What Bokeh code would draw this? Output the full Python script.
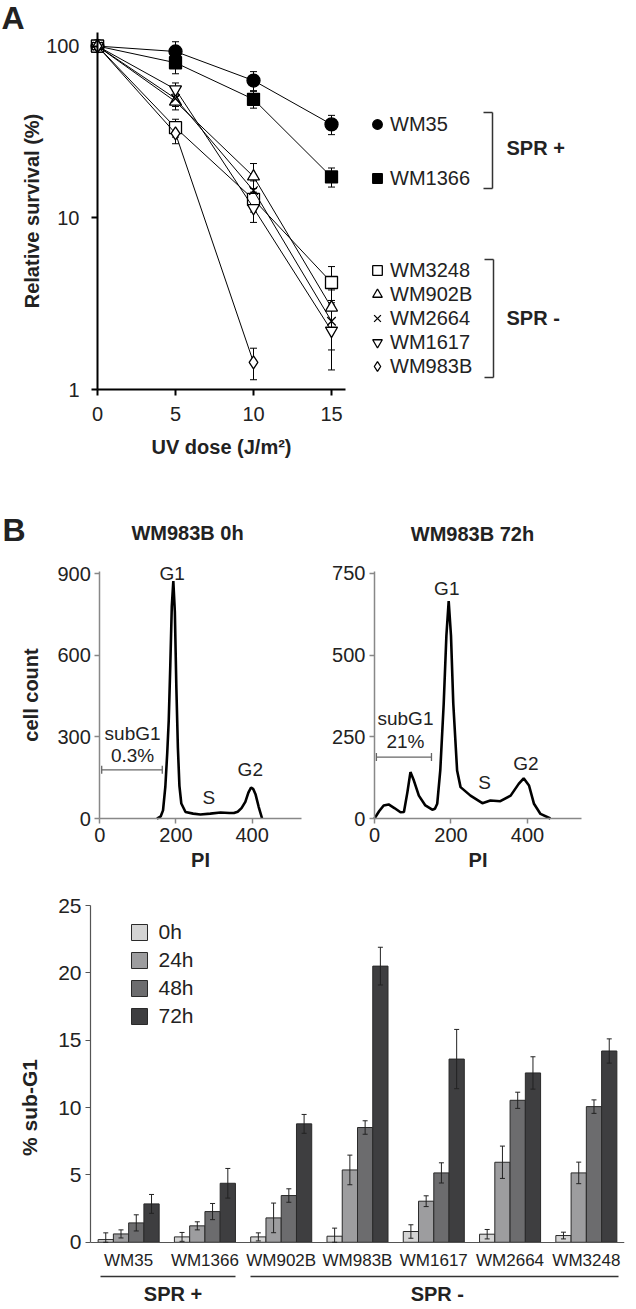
from bokeh.plotting import figure
from bokeh.models import (ColumnDataSource, Whisker, TeeHead, Legend, LegendItem, Label,
                          Arrow, FactorRange, FixedTicker, Range1d, PrintfTickFormatter)
from bokeh.layouts import column, row
from bokeh.transform import dodge
from bokeh.embed import file_html
from bokeh.resources import INLINE

FONT = "Liberation Sans"
INK = "#222222"

# ---------------- Panel A data ----------------
doses = [0, 5, 10, 15]
wm35 = [100, 93, 63, 35]
wm35_err = [0, 13, 8, 4.5]
wm1366 = [100, 80, 49, 17.3]
wm1366_err = [0, 11, 5.5, 2.2]
wm3248 = [100, 33.5, 12.8, 4.2]
wm3248_err = [0, 4, 2, 1.0]
wm902b = [100, 47.5, 17.4, 3.0]
wm902b_err = [0, 5, 3.3, 0.8]
wm2664 = [100, 49.5, 14.4, 2.5]
wm2664_err = [0, 5, 2, 0.8]
wm1617 = [100, 56, 11.4, 2.2]
wm1617_err = [0, 5, 2, 0.9]
wm983b_doses = [0, 5, 10]
wm983b = [100, 31, 1.44]
wm983b_err = [0, 4, 0.3]

# ---------------- Panel B histogram data ----------------
pi_0h = [150, 160, 166, 172, 177, 181, 185, 189, 193, 197, 201, 205, 209, 214, 225, 245,
         264, 290, 317, 340, 352, 362, 372, 382, 390, 397, 403, 409, 417, 426]
count_0h = [0, 8, 30, 116, 240, 361, 560, 780, 873, 760, 480, 260, 120, 55, 24, 18,
            15, 18, 22, 20, 20, 25, 38, 61, 95, 114, 108, 88, 43, 0]
pi_72h = [0, 12, 24, 37, 52, 68, 77, 86, 94, 103, 116, 133, 151, 158, 164, 172, 181, 188,
          194, 200, 206, 216, 225, 251, 282, 303, 329, 356, 377, 390, 404, 417, 434, 460]
count_72h = [0, 22, 40, 43, 32, 19, 20, 80, 142, 116, 70, 40, 27, 30, 45, 147, 352, 560,
             665, 560, 352, 147, 96, 70, 47, 55, 53, 70, 106, 123, 101, 45, 14, 0]

# ---------------- Panel B bar data ----------------
cells = ["WM35", "WM1366", "WM902B", "WM983B", "WM1617", "WM2664", "WM3248"]
hours = ["0h", "24h", "48h", "72h"]
sub_0h = [0.2, 0.4, 0.4, 0.45, 0.8, 0.6, 0.5]
sub_24h = [0.62, 1.22, 1.81, 5.37, 3.05, 5.94, 5.15]
sub_48h = [1.44, 2.28, 3.47, 8.52, 5.15, 10.54, 10.07]
sub_72h = [2.85, 4.38, 8.79, 20.5, 13.6, 12.57, 14.2]
err_0h = [0.5, 0.33, 0.3, 0.6, 0.5, 0.35, 0.25]
err_24h = [0.3, 0.3, 1.1, 1.1, 0.4, 1.2, 0.8]
err_48h = [0.6, 0.6, 0.5, 0.5, 0.75, 0.6, 0.5]
err_72h = [0.7, 1.1, 0.7, 1.4, 2.2, 1.2, 0.9]
hour_colors = ["#d4d4d4", "#9d9d9f", "#6c6c6e", "#3e3e40"]


def style_axis(ax, size="20px", line_color="black", line_width=2):
    ax.axis_line_color = line_color
    ax.axis_line_width = line_width
    ax.major_tick_line_color = line_color
    ax.major_tick_line_width = line_width
    ax.major_tick_in = 0
    ax.major_tick_out = 6
    ax.minor_tick_line_color = None
    ax.major_label_text_font = FONT
    ax.major_label_text_font_size = size
    ax.major_label_text_color = INK
    ax.axis_label_text_font = FONT
    ax.axis_label_text_font_style = "bold"
    ax.axis_label_text_font_size = "20px"
    ax.axis_label_text_color = INK


def lab(p, text, x, y, size="20px", bold=False, align="left", units="screen"):
    p.add_layout(Label(x=x, y=y, x_units=units, y_units=units, text=text, text_font=FONT,
                       text_font_size=size, text_font_style="bold" if bold else "normal",
                       text_color=INK, text_align=align, text_baseline="middle"))


def seg(p, x0, y0, x1, y1, color="#333333", width=1.5):
    p.add_layout(Arrow(end=None, start=None, x_start=x0, y_start=y0, x_end=x1, y_end=y1,
                       start_units="screen", end_units="screen",
                       line_color=color, line_width=width))


def base_fig(w, h, xr, yr, **kw):
    p = figure(width=w, height=h, x_range=xr, y_range=yr, output_backend="svg",
               toolbar_location=None, outline_line_color=None, **kw)
    p.grid.visible = False
    return p


# ======================= Panel A =======================
pa = base_fig(636, 478, Range1d(-6.218, 34.55), Range1d(0.3032, 184.3), y_axis_type="log",
              min_border_left=0, min_border_right=0, min_border_top=0, min_border_bottom=0)
pa.yaxis.fixed_location = 0
pa.xaxis.fixed_location = 1
pa.xaxis.bounds = (0, 15.9)
pa.yaxis.bounds = (1, 120)
pa.xaxis.ticker = FixedTicker(ticks=[0, 5, 10, 15])
pa.yaxis.ticker = FixedTicker(ticks=[1, 10, 100])
pa.yaxis.formatter = PrintfTickFormatter(format="%d")
style_axis(pa.xaxis[0])
style_axis(pa.yaxis[0])
pa.xaxis.major_label_standoff = 11
pa.yaxis.major_label_standoff = 12
pa.xaxis.axis_label = "UV dose (J/m²)"
pa.yaxis.axis_label = "Relative survival (%)"
pa.xaxis.axis_label_standoff = 12
pa.yaxis.axis_label_standoff = 0

series = [
    ("WM35", doses, wm35, wm35_err, "circle", "black", 13),
    ("WM1366", doses, wm1366, wm1366_err, "square", "black", 12),
    ("WM3248", doses, wm3248, wm3248_err, "square", "white", 12),
    ("WM902B", doses, wm902b, wm902b_err, "triangle", "white", 12),
    ("WM2664", doses, wm2664, wm2664_err, "x", "white", 12),
    ("WM1617", doses, wm1617, wm1617_err, "inverted_triangle", "white", 12),
    ("WM983B", wm983b_doses, wm983b, wm983b_err, "diamond", "white", 13),
]
renderers = {}
for name, xs, ys, es, marker, fill, size in series:
    src = ColumnDataSource(dict(x=xs, y=ys))
    pa.line("x", "y", source=src, line_color="black", line_width=1)
    keep = [i for i, e in enumerate(es) if e > 0]
    esrc = ColumnDataSource(dict(x=[xs[i] for i in keep],
                                 up=[ys[i] + es[i] for i in keep],
                                 lo=[ys[i] - es[i] for i in keep]))
    pa.add_layout(Whisker(base="x", upper="up", lower="lo", source=esrc, dimension="height",
                          line_color="black", line_width=1,
                          upper_head=TeeHead(size=7, line_color="black", line_width=1),
                          lower_head=TeeHead(size=7, line_color="black", line_width=1)))
    renderers[name] = pa.scatter("x", "y", source=src, marker=marker, size=size,
                                 fill_color=fill, line_color="black", line_width=1.3)


def make_legend(names, loc, spacing):
    return Legend(items=[LegendItem(label=n, renderers=[renderers[n]]) for n in names],
                  location=loc, orientation="vertical", padding=0, margin=0,
                  spacing=spacing, glyph_width=24, glyph_height=24, label_height=24,
                  label_standoff=1, label_text_font=FONT, label_text_font_size="20px",
                  label_text_color=INK, border_line_color=None, background_fill_alpha=0)


pa.add_layout(make_legend(["WM35", "WM1366"], (365, 288), 30))
pa.add_layout(make_legend(["WM3248", "WM902B", "WM2664", "WM1617", "WM983B"], (365, 100), 0))
# brackets
seg(pa, 492, 366, 492, 290)
seg(pa, 483, 366, 492, 366)
seg(pa, 483, 290, 492, 290)
seg(pa, 493, 219, 493, 101)
seg(pa, 484, 219, 493, 219)
seg(pa, 484, 101, 493, 101)
lab(pa, "SPR +", 506, 331, bold=True)
lab(pa, "SPR -", 506, 161, bold=True)
lab(pa, "A", 1, 461, size="32px", bold=True)


# ======================= Panel B histograms =======================
def hist(width, xr, yr, xb, yb, yticks, xs, ys, title, tx, ty, ylabel):
    p = base_fig(width, 407, Range1d(*xr), Range1d(*yr), min_border_left=0,
                 min_border_right=0, min_border_top=0, min_border_bottom=0)
    p.xaxis.fixed_location = 0
    p.yaxis.fixed_location = 0
    p.xaxis.bounds = xb
    p.yaxis.bounds = yb
    p.xaxis.ticker = FixedTicker(ticks=[0, 200, 400])
    p.yaxis.ticker = FixedTicker(ticks=yticks)
    for ax in (p.xaxis[0], p.yaxis[0]):
        style_axis(ax, line_color="#888888", line_width=1.5)
        ax.major_tick_out = 5
        ax.major_label_standoff = 4
    p.xaxis.axis_label = "PI"
    p.xaxis.axis_label_standoff = 4
    if ylabel:
        p.yaxis.axis_label = ylabel
        p.yaxis.axis_label_standoff = 12
    p.line(xs, ys, line_color="black", line_width=2.6)
    lab(p, title, tx, ty, bold=True, align="center")
    return p


ph1 = hist(308, (-260.6, 547.8), (-246.3, 1250), (0, 530), (0, 908), [0, 300, 600, 900],
           pi_0h, count_0h, "WM983B 0h", 187, 353, "cell count")
ph2 = hist(328, (-172.5, 685), (-205, 1040.4), (0, 540), (0, 756), [0, 250, 500, 750],
           pi_72h, count_72h, "WM983B 72h", 164, 352, None)
lab(ph1, "B", 2, 356, size="32px", bold=True)

for p, g1, sub, pct, s, g2, bar in [
    (ph1, (190, 900), (86, 313), (86, 230, "0.3%"), (286, 77), (395, 179), (5, 164, 179)),
    (ph2, (189, 704), (81, 306), (81, 236, "21%"), (288, 111), (396, 167), (5, 149, 188)),
]:
    lab(p, "G1", g1[0], g1[1], size="19px", align="center", units="data")
    lab(p, "subG1", sub[0], sub[1], size="19px", align="center", units="data")
    lab(p, pct[2], pct[0], pct[1], size="19px", align="center", units="data")
    lab(p, "S", s[0], s[1], size="19px", align="center", units="data")
    lab(p, "G2", g2[0], g2[1], size="19px", align="center", units="data")
    wsrc = ColumnDataSource(dict(b=[bar[2]], lo=[bar[0]], up=[bar[1]]))
    p.add_layout(Whisker(base="b", lower="lo", upper="up", source=wsrc, dimension="width",
                         line_color="#666666", line_width=1.3,
                         upper_head=TeeHead(size=8, line_color="#666666", line_width=1.3),
                         lower_head=TeeHead(size=8, line_color="#666666", line_width=1.3)))

# ======================= Panel B bars =======================
pc = base_fig(636, 424, FactorRange(factors=cells, range_padding=0), Range1d(-4.99, 25),
              min_border_left=90, min_border_right=12, min_border_top=20, min_border_bottom=0)
style_axis(pc.yaxis[0], size="21px", line_color="#555555", line_width=1.2)
style_axis(pc.xaxis[0], size="17px", line_color="#555555", line_width=1.2)
pc.xaxis.fixed_location = 0
pc.yaxis.bounds = (0, 25)
pc.yaxis.ticker = FixedTicker(ticks=[0, 5, 10, 15, 20, 25])
pc.yaxis.major_tick_out = 5
pc.yaxis.major_label_standoff = 4
pc.yaxis.axis_label = "% sub-G1"
pc.yaxis.axis_label_text_font_size = "21px"
pc.yaxis.axis_label_standoff = 14
pc.xaxis.major_tick_line_color = None
pc.xaxis.major_tick_out = 0
pc.xaxis.major_label_standoff = 9

vals = [sub_0h, sub_24h, sub_48h, sub_72h]
errs = [err_0h, err_24h, err_48h, err_72h]
offsets = [-0.3, -0.1, 0.1, 0.3]
bar_items = []
for h, v, e, off, col in zip(hours, vals, errs, offsets, hour_colors):
    src = ColumnDataSource(dict(cell=cells, v=v, up=[a + b for a, b in zip(v, e)],
                                lo=[max(a - b, 0) for a, b in zip(v, e)]))
    r = pc.vbar(x=dodge("cell", off, range=pc.x_range), top="v", width=0.2, source=src,
                fill_color=col, line_color="#2a2a2a", line_width=1)
    bar_items.append(LegendItem(label=h, renderers=[r]))
    pc.add_layout(Whisker(base=dodge("cell", off, range=pc.x_range), upper="up", lower="lo",
                          source=src, dimension="height", level="overlay",
                          line_color="#222222", line_width=1,
                          upper_head=TeeHead(size=5, line_color="#222222", line_width=1),
                          lower_head=TeeHead(size=5, line_color="#222222", line_width=1)))

pc.add_layout(Legend(items=bar_items, location=(38.5, 280.7), orientation="vertical",
                     padding=0, margin=0, spacing=4, glyph_width=20, glyph_height=20,
                     label_height=20, label_standoff=10, label_text_font=FONT,
                     label_text_font_size="21px", label_text_color=INK,
                     border_line_color=None, background_fill_alpha=0))
seg(pc, 10, 33, 145, 33)
seg(pc, 160, 33, 528, 33)
lab(pc, "SPR +", 82.5, 16, bold=True, align="center")
lab(pc, "SPR -", 346.8, 16, bold=True, align="center")

layout = column(row(pa), row(ph1, ph2), row(pc))
open("out.html", "w").write(file_html(layout, INLINE))
